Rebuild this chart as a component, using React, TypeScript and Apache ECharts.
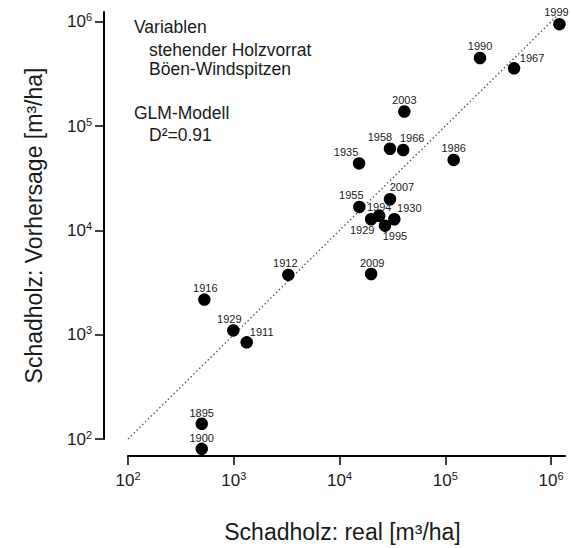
import React, { useEffect, useRef } from 'react';
import * as echarts from 'echarts';

// Years (labels of the points)
const years = ['1999', '1990', '1967', '2003', '1958', '1966', '1935', '1986', '2007', '1955', '1994', '1929', '1995', '1930', '2009', '1912', '1916', '1929', '1911', '1895', '1900'];
// Schadholz real [m³/ha]
const realM3 = [1200000, 213000, 447000, 41000, 30000, 40000, 15300, 120000, 30000, 15400, 23700, 19900, 26900, 33000, 19900, 3280, 527, 990, 1325, 498, 498];
// Schadholz Vorhersage [m³/ha]
const predictedM3 = [950000, 450000, 358000, 138000, 60700, 59000, 43900, 47400, 19900, 16800, 13800, 12800, 11100, 12800, 3820, 3740, 2170, 1100, 845, 140, 80.5];
// label nudges (px) for the year annotations
const labelShift: [number, number][] = [[-3, 0], [0, 0], [18, 1], [0, 0], [-10, 0], [9, 0], [-13, 0], [0, 0], [12, 0], [-8, 0], [0, 3], [-9, 23], [10, 22], [15, 1], [1, 1], [-3, 0], [1, 0], [-4, 0], [15, 1], [0, 1], [0, 1]];
// decade exponents on both axes
const tickExponents = [2, 3, 4, 5, 6];
// 1:1 reference line (m³/ha)
const identityLine = [100, 1150000];
// annotation text
const noteTitle1 = 'Variablen';
const noteVars = ['stehender Holzvorrat', 'Böen-Windspitzen'];
const noteTitle2 = 'GLM-Modell';
const noteFit = 'D²=0.91';

export default function App() {
  const ref = useRef<HTMLDivElement>(null);
  useEffect(() => {
    const chart = echarts.init(ref.current!, null, { renderer: 'svg' });
    const font = "'Liberation Sans', Arial, Helvetica, sans-serif";
    const ink = '#1a1a1a';
    const rich = {
      b: { fontSize: 17, fontFamily: font, color: ink, lineHeight: 20 },
      s: { fontSize: 11, fontFamily: font, color: ink, lineHeight: 12, verticalAlign: 'top' },
    };
    const tickFmt = (v: number) => `{b|10}{s|${Math.round(v)}}`;
    const points = years.map((y, i) => ({
      value: [Math.log10(realM3[i]), Math.log10(predictedM3[i])],
      label: { offset: labelShift[i] },
      name: y,
    }));
    const txt = (text: string, x: number, y: number) => ({
      type: 'text', x, y,
      style: { text, fontSize: 17.5, fontFamily: font, fill: ink, verticalAlign: 'middle' },
    });
    chart.setOption({
      animation: false,
      grid: { left: 128, right: 6, top: 12, bottom: 102, containLabel: false },
      xAxis: {
        type: 'value', min: 2, max: 6.132, interval: 1, offset: 17,
        name: 'Schadholz: real [m³/ha]', nameLocation: 'middle', nameGap: 64,
        nameTextStyle: { fontSize: 23, fontFamily: font, color: ink, verticalAlign: 'top', padding: [0, 8, 0, 0] },
        axisLine: { show: true, onZero: false, lineStyle: { color: '#000', width: 2 } },
        axisTick: { show: true, length: 9, customValues: tickExponents, lineStyle: { color: '#000', width: 1.5 } },
        axisLabel: { customValues: tickExponents, margin: 14, formatter: tickFmt, rich },
        splitLine: { show: false },
      },
      yAxis: {
        type: 'value', min: 2, max: 6.094, interval: 1, offset: 24,
        name: 'Schadholz: Vorhersage [m³/ha]', nameLocation: 'middle', nameGap: 59, nameRotate: 90,
        nameTextStyle: { fontSize: 23, fontFamily: font, color: ink },
        axisLine: { show: true, onZero: false, lineStyle: { color: '#000', width: 2 } },
        axisTick: { show: true, length: 9, customValues: tickExponents, lineStyle: { color: '#000', width: 1.5 } },
        axisLabel: { customValues: tickExponents, margin: 12, formatter: tickFmt, rich },
        splitLine: { show: false },
      },
      graphic: [
        txt(noteTitle1, 134, 27),
        txt(noteVars[0], 149, 50),
        txt(noteVars[1], 149, 69),
        txt(noteTitle2, 134, 113),
        txt(noteFit, 149, 135),
      ],
      series: [
        {
          type: 'line',
          data: identityLine.map((v) => [Math.log10(v), Math.log10(v)]),
          symbol: 'none', silent: true,
          lineStyle: { color: '#555', width: 1.3, type: [1.5, 2.5] },
          z: 1,
        },
        {
          type: 'scatter',
          data: points,
          symbol: 'circle', symbolSize: 12.5, clip: false,
          itemStyle: { color: '#000', opacity: 1 },
          label: {
            show: true, position: 'top', distance: 0,
            formatter: (p: any) => p.name,
            fontSize: 11, fontFamily: font, color: ink,
          },
          z: 3,
        },
      ],
    });
    return () => chart.dispose();
  }, []);
  return <div ref={ref} style={{ position: 'fixed', left: 0, top: 0, width: 571, height: 548, background: '#fff' }} />;
}
